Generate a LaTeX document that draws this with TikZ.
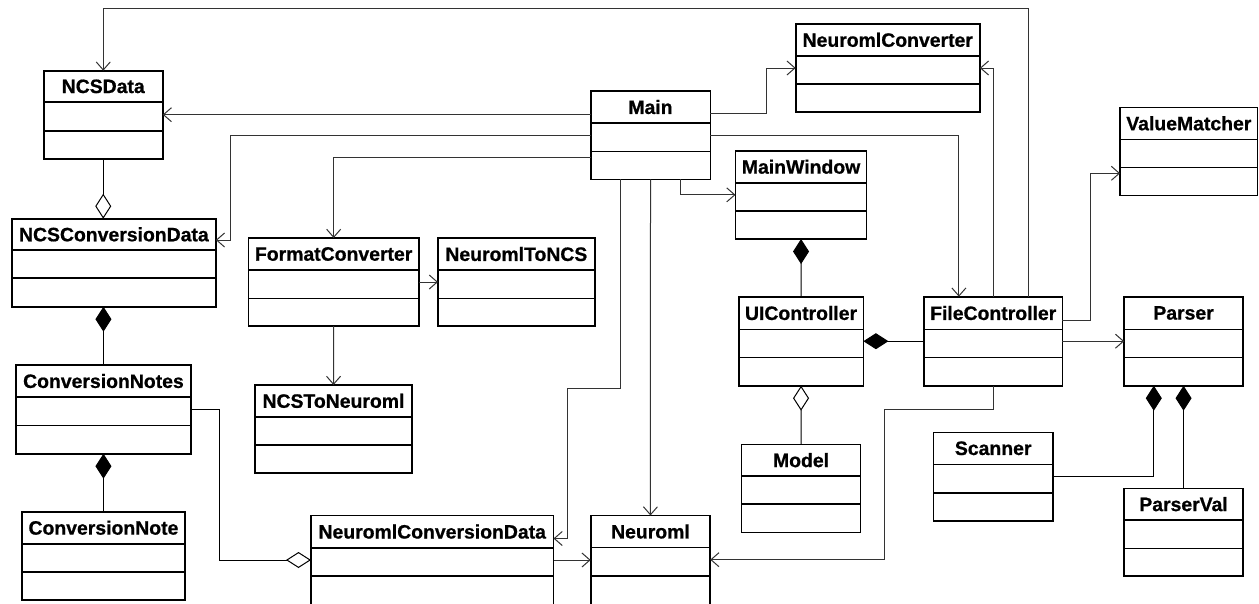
\documentclass[tikz,border=0pt]{standalone}
\usepackage{fontspec}
\setmainfont{Liberation Sans}
\newfontfamily\ttlfont[FakeBold=0.8]{Liberation Sans Bold}
\usetikzlibrary{arrows.meta}
\tikzset{
  clsbox/.style={draw=black, line width=1.6pt, rectangle, inner sep=0pt, outer sep=0pt},
  divline/.style={draw=black, line width=1.6pt},
  clstitle/.style={font=\ttlfont\fontsize{19.4}{20}\selectfont, inner sep=0pt, text=black},
  conn/.style={line width=1pt, draw=black!80},
  arr/.style={conn, -{Straight Barb[length=8pt,width=14pt,line width=1pt]}},
  comp/.style={line width=1pt, draw=black, {Diamond[length=25pt,width=16pt,fill=black]}-},
  aggr/.style={line width=1pt, draw=black, {Diamond[length=25pt,width=16pt,fill=white]}-},
}
\newcommand{\umlclass}[8]{%
  \pgfmathsetmacro\clsw{(#4)-(#2)}%
  \pgfmathsetmacro\clsh{(#5)-(#3)}%
  \pgfmathsetmacro\clscx{((#2)+(#4))/2}%
  \pgfmathsetmacro\clscy{((#3)+(#5))/2}%
  \pgfmathsetmacro\clsty{((#3)+(#6))/2}%
  \node[clsbox, minimum width=\clsw pt, minimum height=\clsh pt] (#1) at (\clscx,\clscy) {};
  \draw[divline] (#2,#6) -- (#4,#6) (#2,#7) -- (#4,#7);
  \node[clstitle] (#1-title) at (\clscx,\clsty) {#8};
}
\begin{document}
\begin{tikzpicture}[x=1pt,y=-1pt]
\useasboundingbox (0,0) rectangle (1259,603);
\clip (0,0) rectangle (1259,603);
\fill[white] (0,0) rectangle (1259,603);

% classes: name, x1, y1, x2, y2, div1, div2, title
\umlclass{NCSData}{43.8}{70.7}{162.7}{158.7}{102}{130.7}{NCSData}
\umlclass{NCSConversionData}{12}{218.7}{215.8}{306.7}{250}{278}{NCSConversionData}
\umlclass{ConversionNotes}{16}{365}{190.9}{453.7}{397}{425.3}{ConversionNotes}
\umlclass{ConversionNote}{21.7}{511.7}{185.2}{600}{543.7}{572}{ConversionNote}
\umlclass{FormatConverter}{248.3}{238}{419}{326}{270}{298.3}{FormatConverter}
\umlclass{NeuromlToNCS}{438}{238}{594.7}{326}{270}{298.3}{NeuromlToNCS}
\umlclass{NCSToNeuroml}{255}{385}{412}{473}{416.7}{445}{NCSToNeuroml}
\umlclass{NeuromlConversionData}{311}{515.5}{553.5}{650}{547.7}{576}{NeuromlConversionData}
\umlclass{Neuroml}{590.7}{515.5}{710.2}{650}{547.5}{576}{Neuroml}
\umlclass{Main}{590.7}{91}{710.3}{179.3}{123}{151.5}{Main}
\umlclass{NeuromlConverter}{795.7}{24}{979.8}{112}{55.7}{84}{NeuromlConverter}
\umlclass{MainWindow}{735.5}{150.7}{866.6}{239}{182.7}{210.7}{MainWindow}
\umlclass{UIController}{738.7}{296.7}{863.4}{385.7}{329.3}{357.3}{UIController}
\umlclass{FileController}{924}{296.7}{1062.4}{385.7}{329.3}{357.3}{FileController}
\umlclass{Model}{741.5}{444.3}{860.6}{532.3}{476}{504}{Model}
\umlclass{Scanner}{933.6}{432.3}{1052.8}{520.7}{464.3}{492.7}{Scanner}
\umlclass{Parser}{1124.2}{296.7}{1242.9}{385.7}{329.3}{357.3}{Parser}
\umlclass{ParserVal}{1124.2}{488.3}{1242.9}{576}{520}{548.3}{ParserVal}
\umlclass{ValueMatcher}{1120.1}{107.3}{1257.6}{195.3}{139.3}{167.3}{ValueMatcher}

% dependencies
\draw[arr] ([xshift=35.1pt]FileController.north) -- ++(0,-288.4) -| (NCSData.north);
\draw[arr] (Main.west |- NCSData.east) -- (NCSData.east);
\draw[arr] (Main.west) -| ([xshift=14.4pt,yshift=22.7pt]NCSConversionData.east) -- ([yshift=22.7pt]NCSConversionData.east);
\draw[arr] ([yshift=-22.5pt]Main.west) -| (FormatConverter.north);
\draw[arr] (FormatConverter.east) -- (NeuromlToNCS.west);
\draw[arr] (FormatConverter.south) -- (NCSToNeuroml.north);
\draw[arr] ([xshift=-29.7pt]Main.south) -- ++(0,209) -| ([xshift=13.8pt,yshift=-23pt]NeuromlConversionData.north east) -- ([yshift=-23pt]NeuromlConversionData.north east);
\draw[arr] (Main.south) -- (Neuroml.north);
\draw[arr] ([xshift=29.8pt]Main.south) |- (MainWindow.west);
\draw[arr] ([yshift=22pt]Main.east) -- ++(56.1,0) |- (NeuromlConverter.west);
\draw[arr] (Main.east) -| ([xshift=-34.3pt]FileController.north);
\draw[arr] (FileController.north) |- (NeuromlConverter.east);
\draw[arr] (FileController.east) -- (Parser.west);
\draw[arr] ([yshift=21.2pt]FileController.east) -| ([xshift=-29.6pt,yshift=-22pt]ValueMatcher.west) -- ([yshift=-22pt]ValueMatcher.west);
\draw[arr] (FileController.south) -- ++(0,23.3) -| ([xshift=174.1pt,yshift=-44.2pt]Neuroml.north east) -- ([yshift=-44.2pt]Neuroml.north east);
\draw[arr] ([yshift=-44.5pt]NeuromlConversionData.north east) -- ([yshift=-44.5pt]Neuroml.north west);

% compositions / aggregations
\draw[comp] (MainWindow.south) -- (UIController.north);
\draw[comp] (UIController.east) -- (FileController.west);
\draw[aggr] (UIController.south) -- (Model.north);
\draw[comp] ([xshift=-29.75pt]Parser.south) |- (Scanner.east);
\draw[comp] (Parser.south) -- (ParserVal.north);
\draw[aggr] (NCSData.south |- NCSConversionData.north) -- (NCSData.south);
\draw[comp] (ConversionNotes.north |- NCSConversionData.south) -- (ConversionNotes.north);
\draw[comp] (ConversionNotes.south) -- (ConversionNote.north);
\draw[aggr] ([yshift=-44.5pt]NeuromlConversionData.north west) -- ++(-91.2,0) |- (ConversionNotes.east);
\end{tikzpicture}
\end{document}
